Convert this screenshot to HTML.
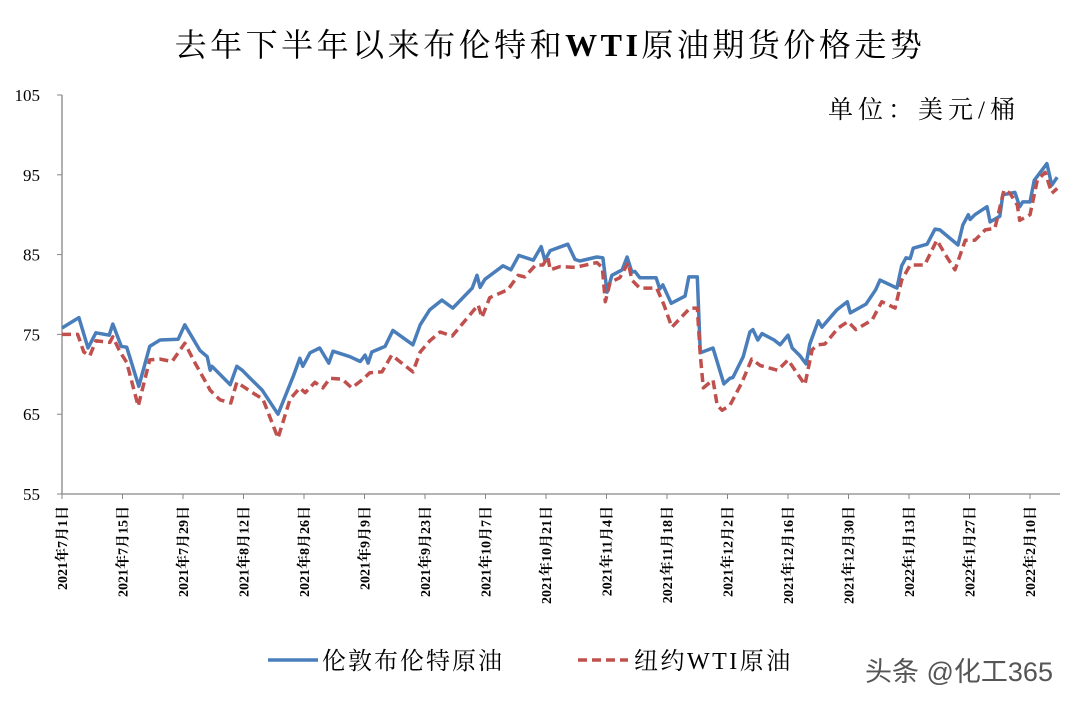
<!DOCTYPE html>
<html><head><meta charset="utf-8"><style>
body{margin:0;background:#fff;width:1080px;height:704px;overflow:hidden;font-family:"Liberation Serif","Noto Serif CJK SC",serif;}
</style></head><body>
<svg id="chart" width="1080" height="704" xmlns="http://www.w3.org/2000/svg">
<text x="550" y="56" text-anchor="middle" font-size="32" letter-spacing="3.5" font-family="Liberation Serif, Noto Serif CJK SC, serif">去年下半年以来布伦特和<tspan font-weight="bold">WTI</tspan>原油期货价格走势</text>
<text x="828" y="118" font-size="25" letter-spacing="5" font-family="Liberation Serif, Noto Serif CJK SC, serif">单位：美元/桶</text>
<g id="axes"></g>
<g id="series"></g>
<g>
<line x1="268" y1="660" x2="318" y2="660" stroke="#4a7ebb" stroke-width="3.5"/>
<text x="322" y="669" font-size="24" letter-spacing="2">伦敦布伦特原油</text>
<line x1="578" y1="660" x2="628" y2="660" stroke="#c0504d" stroke-width="3.5" stroke-dasharray="9,5"/>
<text x="634" y="669" font-size="24" letter-spacing="2.5">纽约WTI原油</text>
</g>
<text x="865" y="681" font-size="27" fill="#555" font-family="Liberation Sans, Noto Sans CJK SC, sans-serif">头条 @化工365</text>
</svg>
<script>
const yTicks=[55,65,75,85,95,105];
const xTickLabels=["2021年7月1日","2021年7月15日","2021年7月29日","2021年8月12日","2021年8月26日","2021年9月9日","2021年9月23日","2021年10月7日","2021年10月21日","2021年11月4日","2021年11月18日","2021年12月2日","2021年12月16日","2021年12月30日","2022年1月13日","2022年1月27日","2022年2月10日"];
const brentDay=[0,2.8,4.3,5.6,7.8,8.4,9.8,10.7,12.7,14.5,16.2,19.2,20.3,22.8,24.0,24.5,24.8,27.8,28.9,29.8,31.1,33.1,35.7,38.3,39.3,39.8,41.0,42.6,44.1,44.8,47.6,49.3,50.1,50.6,51.2,53.4,54.7,58.0,59.2,60.8,62.8,64.6,67.8,68.6,69.1,69.9,72.9,74.2,75.5,77.9,79.2,79.8,80.7,83.6,84.8,85.6,88.4,89.4,90.1,90.9,92.6,93.4,94.2,94.7,95.5,98.2,98.8,99.3,100.7,103.0,103.6,105.0,105.5,107.6,109.4,110.4,110.9,112.6,113.7,114.2,115.0,115.7,117.7,118.7,120.0,120.7,122.0,123.0,123.6,125.0,125.6,128.1,129.8,130.3,132.9,134.5,135.2,138.0,138.8,139.5,140.2,140.7,143.0,144.3,145.1,148.1,148.9,149.8,150.1,150.9,152.9,153.4,155.0,155.5,157.5,158.3,158.8,160.0,160.7,162.8,163.6,164.5];
const brentVal=[75.8,77.1,73.3,75.2,74.9,76.3,73.5,73.4,68.5,73.5,74.3,74.4,76.2,73.0,72.2,70.5,71.0,68.7,71.0,70.5,69.5,68.0,65.0,69.9,72.0,71.0,72.7,73.3,71.4,72.9,72.2,71.6,72.4,71.4,72.8,73.5,75.5,73.7,76.2,78.1,79.3,78.3,80.8,82.4,80.9,81.9,83.6,83.1,84.9,84.3,86.0,84.3,85.5,86.3,84.4,84.2,84.7,84.6,80.3,82.4,83.1,84.7,82.8,82.9,82.1,82.1,80.7,81.2,78.9,79.8,82.2,82.2,72.7,73.3,68.8,69.5,69.6,72.2,75.3,75.6,74.3,75.1,74.3,73.7,74.9,73.3,72.3,71.3,73.8,76.7,75.9,78.1,79.1,77.7,78.8,80.6,81.8,80.8,83.6,84.6,84.5,85.8,86.3,88.2,88.1,86.2,88.7,90.0,89.4,90.0,91.0,89.1,89.8,92.5,92.8,91.0,91.6,91.6,94.3,96.4,93.7,94.7];
const wtiDay=[0,2.6,3.6,4.6,5.6,7.9,8.4,9.6,10.7,12.6,14.5,16.2,18.2,20.3,22.0,24.0,24.5,26.1,27.9,28.9,29.9,31.9,33.2,35.7,37.7,39.3,40.2,41.8,43.1,44.3,46.3,47.9,49.6,50.9,52.9,54.5,58.0,59.2,60.8,62.5,64.5,68.8,69.4,70.7,73.7,75.4,76.5,78.3,79.5,80.3,80.7,82.3,84.8,88.4,89.3,89.8,90.6,92.2,93.6,94.2,95.5,98.3,99.5,100.8,103.8,105.0,105.5,106.0,107.6,108.3,109.1,110.4,112.4,114.0,115.4,118.3,120.0,122.8,124.0,125.0,126.1,128.3,129.9,131.2,133.9,135.5,137.7,138.8,140.2,142.6,144.6,146.0,147.6,149.3,150.9,152.6,154.2,155.7,156.7,157.9,158.3,160.0,161.2,162.5,163.6,164.5];
const wtiVal=[75.0,75.0,72.8,72.3,74.2,74.0,74.7,72.8,71.5,66.0,71.8,71.9,71.6,73.9,71.4,68.7,68.0,66.8,66.4,69.0,68.5,67.5,66.9,62.0,66.9,68.3,67.7,69.0,68.3,69.5,69.4,68.3,69.3,70.2,70.3,72.4,70.3,72.8,74.2,75.3,74.8,78.7,77.1,79.6,80.6,82.4,82.2,83.7,83.7,84.7,83.1,83.5,83.4,84.0,83.4,79.1,81.5,82.1,84.0,81.8,80.8,80.8,78.7,75.9,78.3,78.3,72.4,68.3,69.3,66.1,65.5,66.1,69.0,71.9,71.1,70.5,71.8,68.7,73.1,73.7,73.8,75.8,76.6,75.6,76.8,79.1,78.3,81.8,83.7,83.7,86.8,85.0,83.1,86.8,86.8,88.1,88.3,93.1,92.7,91.2,89.3,90.0,94.3,95.3,92.7,93.3];

const NS="http://www.w3.org/2000/svg";
const X0=62,X1=1060,Y0=494,Y1=95,DAY=6.05;
function xs(d){return X0+d*DAY;}
function ys(v){return Y0-(v-55)/50*(Y0-Y1);}
function mk(t,a,p){const e=document.createElementNS(NS,t);for(const k in a)e.setAttribute(k,a[k]);p.appendChild(e);return e;}
const axes=document.getElementById('axes'),ser=document.getElementById('series');
let e=mk('line',{x1:X0,y1:Y1,x2:X0,y2:Y0,stroke:'#868686','stroke-width':1.3},axes);


e=mk('line',{x1:X0,y1:Y0,x2:X1,y2:Y0,stroke:'#868686','stroke-width':1.3},axes);


yTicks.forEach(v=>{
 const t=mk('line',{x1:X0-5,y1:ys(v),x2:X0,y2:ys(v),stroke:'#868686'},axes);
 
 
 const l=mk('text',{x:40,y:ys(v)+6,'text-anchor':'end','font-size':17},axes);
 l.textContent=v;
 
 
});
xTickLabels.forEach((s,i)=>{
 const x=xs(i*10);
 const t=mk('line',{x1:x,y1:Y0,x2:x,y2:Y0+5,stroke:'#868686'},axes);
 
 
 const l=mk('text',{x:0,y:0,'text-anchor':'end','font-size':14,'font-weight':'bold',transform:`translate(${x+5},${Y0+12}) rotate(-90)`},axes);
 l.textContent=s;
 
 
});
function path(days,vals){return days.map((d,i)=>(i?'L':'M')+xs(d).toFixed(1)+','+ys(vals[i]).toFixed(1)).join('');}
e=mk('path',{d:path(brentDay,brentVal),fill:'none',stroke:'#4a7ebb','stroke-width':3.5,'stroke-linejoin':'round'},ser);


e=mk('path',{d:path(wtiDay,wtiVal),fill:'none',stroke:'#c0504d','stroke-width':3.5,'stroke-dasharray':'9,5','stroke-linejoin':'round'},ser);


</script>
</body></html>
